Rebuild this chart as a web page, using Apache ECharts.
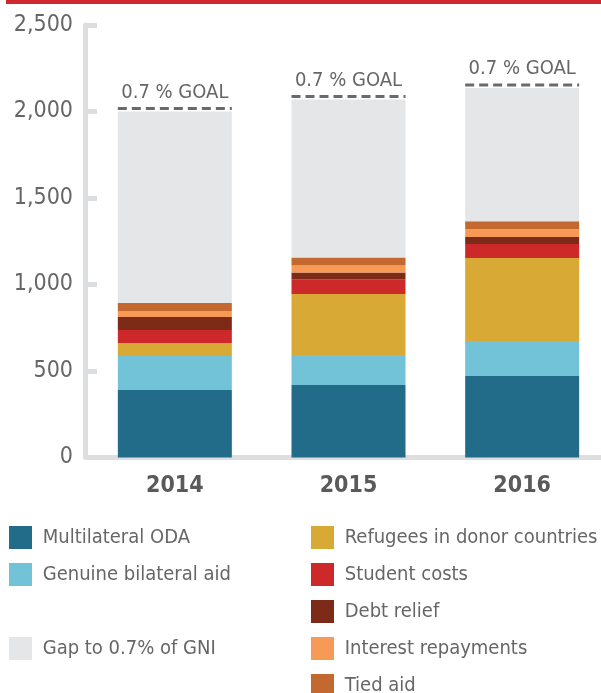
<!DOCTYPE html>
<html>
<head>
<meta charset="utf-8">
<script src="https://cdn.jsdelivr.net/npm/echarts@6/dist/echarts.min.js"></script>
<style>
  html, body { margin: 0; padding: 0; background: #fff; }
  #chart { width: 601px; height: 693px; }
</style>
</head>
<body>
<div id="chart"></div>
<script>
var years        = ['2014', '2015', '2016'];
var multilateral = [390, 419, 471];
var bilateral    = [197, 173, 202];
var refugees     = [75, 353, 480];
var students     = [75, 85, 81];
var debtRelief   = [75, 40, 40];
var interest     = [35, 40, 46];
var tiedAid      = [46, 46, 46];
var gapToGoal    = [1107, 914, 770];
var goalLevel    = [2000, 2070, 2136];
var yTicks       = [0, 500, 1000, 1500, 2000, 2500];
var goalText     = '0.7 % GOAL';

var narrow   = "'DejaVu Sans Condensed', 'DejaVu Sans', sans-serif";
var grey     = '#666666';
var axisGrey = '#dddee0';
var barW     = 114;

var chart = echarts.init(document.getElementById('chart'));

function stackBar(name, data, color) {
    return {
        name: name,
        type: 'bar',
        stack: 'oda',
        barWidth: barW,
        itemStyle: { color: color },
        emphasis: { disabled: true },
        data: data
    };
}

// one vertical legend block; rows are 37px apart
function legendBlock(left, top, names) {
    return {
        left: left, top: top, orient: 'vertical', itemGap: 14, padding: 0,
        itemWidth: 23, itemHeight: 23, icon: 'rect', selectedMode: false,
        formatter: function (n) { return ' ' + n; },
        textStyle: { color: grey, fontFamily: narrow, fontSize: 20, lineHeight: 23 },
        data: names
    };
}

var option = {
    animation: false,
    backgroundColor: '#ffffff',
    graphic: [
        { type: 'rect', left: 6, top: 0, shape: { width: 600, height: 4 }, style: { fill: '#d0282e' } }
    ],
    grid: { left: 88, width: 521, top: 25, bottom: 235.5, outerBoundsMode: 'none' },
    legend: [
        legendBlock(9, 526, ['Multilateral ODA', 'Genuine bilateral aid']),
        legendBlock(9, 637, ['Gap to 0.7% of GNI']),
        legendBlock(311, 526, ['Refugees in donor countries', 'Student costs', 'Debt relief', 'Interest repayments']),
        legendBlock(311, 674, ['Tied aid'])
    ],
    xAxis: {
        type: 'category',
        data: years,
        offset: 7.5,
        axisLine: { lineStyle: { color: axisGrey, width: 5 } },
        axisTick: { inside: true, length: 11, lineStyle: { color: axisGrey, width: 5 } },
        axisLabel: { color: '#5a5a5a', fontFamily: narrow, fontWeight: 'bold', fontSize: 23, margin: 10 }
    },
    yAxis: {
        type: 'value',
        min: yTicks[0],
        max: yTicks[yTicks.length - 1],
        interval: 500,
        offset: 3,
        splitLine: { show: false },
        axisLine: { show: true, lineStyle: { color: axisGrey, width: 5 } },
        axisTick: { show: true, inside: true, length: 12, lineStyle: { color: axisGrey, width: 5 } },
        axisLabel: {
            color: grey, fontFamily: narrow, fontSize: 23, margin: 12,
            formatter: function (v) { return v.toLocaleString('en-US'); }
        }
    },
    series: [
        stackBar('Multilateral ODA', multilateral, '#226c89'),
        stackBar('Genuine bilateral aid', bilateral, '#72c3d8'),
        stackBar('Refugees in donor countries', refugees, '#d8a935'),
        stackBar('Student costs', students, '#cd282a'),
        stackBar('Debt relief', debtRelief, '#7e2a18'),
        stackBar('Interest repayments', interest, '#f79a55'),
        stackBar('Tied aid', tiedAid, '#c3692f'),
        stackBar('Gap to 0.7% of GNI', gapToGoal, '#e5e6e8'),
        {
            // dashed goal marker + label over each bar
            name: 'goal',
            type: 'custom',
            silent: true,
            data: goalLevel.map(function (v, i) { return [i, v]; }),
            renderItem: function (params, api) {
                var p = api.coord([api.value(0), api.value(1)]);
                var y = p[1] - 3;
                return {
                    type: 'group',
                    children: [
                        {
                            type: 'line',
                            shape: { x1: p[0] - barW / 2, y1: y, x2: p[0] + barW / 2, y2: y },
                            style: { stroke: '#6a6a6a', lineWidth: 3, lineDash: [9, 5] }
                        },
                        {
                            type: 'text',
                            style: {
                                text: goalText, x: p[0], y: y - 6,
                                align: 'center', verticalAlign: 'bottom',
                                fill: grey, font: '20px ' + narrow
                            }
                        }
                    ]
                };
            }
        }
    ]
};

chart.setOption(option);
</script>
</body>
</html>
